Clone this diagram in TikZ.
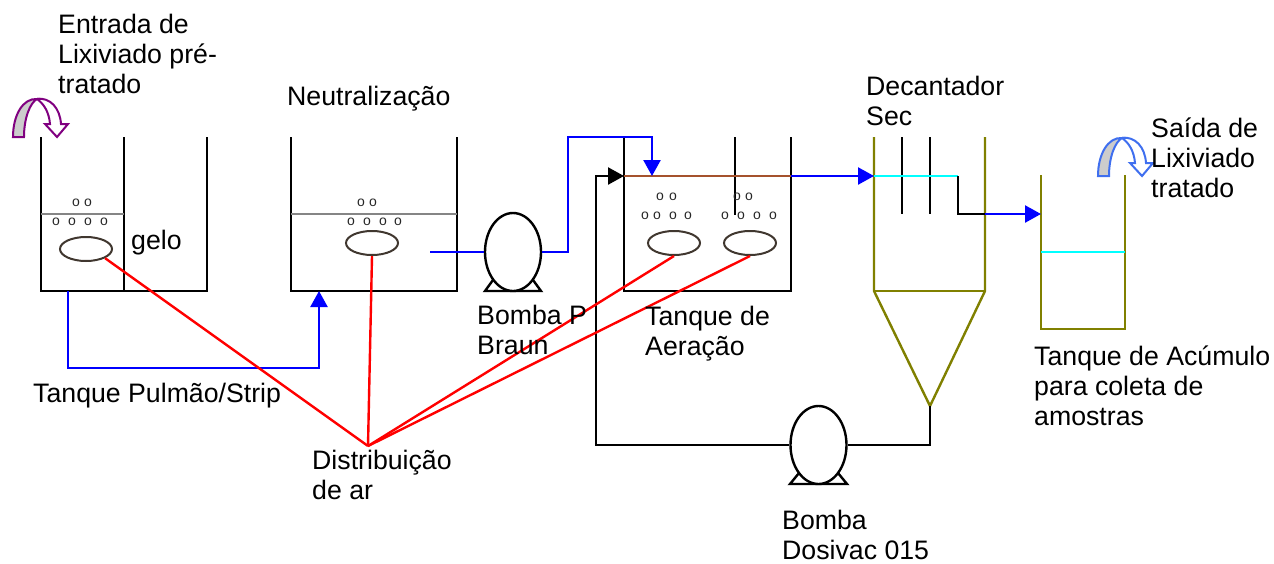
\documentclass[tikz,border=0pt]{standalone}
\usepackage{fontspec}
\setmainfont{Liberation Sans}
\usetikzlibrary{shapes.geometric,arrows.meta}
\definecolor{olivetank}{HTML}{808000}
\definecolor{waterbrown}{HTML}{A5522D}
\definecolor{watergray}{HTML}{858585}
\definecolor{watercyan}{HTML}{00FFFF}
\definecolor{diffuser}{HTML}{40372F}
\definecolor{turnblue}{HTML}{3F6FEF}
\definecolor{turnpurple}{HTML}{800080}
\definecolor{pureblue}{HTML}{0000FF}
\definecolor{purered}{HTML}{FF0000}
\newcommand{\lbl}{\rule{0pt}{20pt}}
\tikzset{
  x=1pt,y=-1pt,
  wall/.style={draw=black,line width=2.4pt,line join=miter},
  olivewall/.style={draw=olivetank,line width=2.4pt},
  level/.style={line width=2.4pt},
  labeltext/.style={anchor=north west,inner sep=0pt,align=left,font=\fontsize{26.7}{30.3}\selectfont},
  bub/.style={inner sep=0pt,font=\fontsize{14}{14}\selectfont,text=black!85},
  diff/.style={ellipse,draw=diffuser,line width=2pt,minimum width=52pt,minimum height=24pt,inner sep=0pt},
  pump/.style={ellipse,draw=black,fill=white,line width=2.4pt,minimum width=56pt,minimum height=78pt,inner sep=0pt},
  bluepipe/.style={draw=pureblue,line width=2.4pt},
  bluearrow/.style={draw=pureblue,line width=2.4pt,-{Triangle[length=16pt,width=17pt,fill=pureblue]}},
  blackarrow/.style={draw=black,line width=2.4pt,-{Triangle[length=16pt,width=17pt,fill=black]}},
  airline/.style={draw=purered,line width=2.4pt},
  turnband/.style={line width=2pt,fill=black!20},
  turnhead/.style={line width=2pt,fill=white},
}
\begin{document}
\begin{tikzpicture}
\useasboundingbox (0,0) rectangle (1274,563);
% tanks
\draw[wall] (41,137) -- (41,291) -- (207,291) -- (207,137);
\draw[wall] (124,137) -- (124,291);
\draw[wall] (291,137) -- (291,291) -- (457,291) -- (457,137);
\draw[wall] (624,137) -- (624,291) -- (791,291) -- (791,137);
\draw[wall] (735,137) -- (735,215);
\draw[olivewall] (874,137) -- (874,291) -- (930,406) -- (985,291) -- (985,137);
\draw[olivewall] (874,291) -- (985,291);
\draw[wall] (902,137) -- (902,214);
\draw[wall] (930,137) -- (930,214);
\draw[olivewall] (1041,175) -- (1041,329) -- (1125,329) -- (1125,175);
% liquid levels
\draw[level,watergray] (41,214) -- (124,214);
\draw[level,watergray] (291,214) -- (457,214);
\draw[level,waterbrown] (624,176) -- (791,176);
\draw[level,watercyan] (874,176) -- (958,176);
\draw[level,watercyan] (1041,252) -- (1125,252);
% bubbles
\foreach \x in {76,88} \node[bub] (ba\x) at (\x,203) {o};
\foreach \x in {56,72,88,104} \node[bub] (bb\x) at (\x,222) {o};
\foreach \x in {361,373} \node[bub] (bc\x) at (\x,203) {o};
\foreach \x in {351,367,383,398} \node[bub] (bd\x) at (\x,222) {o};
\foreach \x in {660,673} \node[bub] (be\x) at (\x,197) {o};
\foreach \x in {645,657,673,688} \node[bub] (bf\x) at (\x,216) {o};
\foreach \x in {737,749} \node[bub] (bg\x) at (\x,197) {o};
\foreach \x in {725,741,757,773} \node[bub] (bh\x) at (\x,216) {o};
% diffusers
\node[diff] (d1) at (86,249) {};
\node[diff] (d2) at (372,243) {};
\node[diff] (d3) at (674,243) {};
\node[diff] (d4) at (750,243) {};
% pumps
\draw[wall] (493,280) -- (485,291) -- (541,291) -- (533,280);
\node[pump] (p1) at (513,252) {};
\draw[wall] (799,473) -- (790,484) -- (847,484) -- (838,473);
\node[pump] (p2) at (818.5,445) {};
% named connector ends
\coordinate (hub) at (368,446);
\coordinate (t1out) at (68,291);
\coordinate (t2in) at (319,291);
\coordinate (t2out) at (430,252);
\coordinate (t3in) at (652,176);
\coordinate (t3ret) at (624,176);
\coordinate (t3out) at (791,176);
\coordinate (decin) at (874,176);
\coordinate (weir) at (958,176);
\coordinate (decwall) at (985,214);
\coordinate (t4in) at (1041,214);
\coordinate (apex) at (930,406);
% blue pipes
\draw[bluearrow] (t1out) -- (68,368) -- (319,368) -- (t2in);
\draw[bluepipe] (t2out) -- (p1.west);
\draw[bluearrow] (p1.east) -- (568,252) -- (568,137) -- (652,137) -- (t3in);
\draw[bluearrow] (t3out) -- (decin);
\draw[wall] (weir) -- (958,214) -- (decwall);
\draw[bluearrow] (decwall) -- (t4in);
% return line
\draw[blackarrow] (p2.west) -- (596,445) -- (596,176) -- (t3ret);
\draw[wall] (p2.east) -- (930,445) -- (apex);
% air lines
\draw[airline] (d1.south east) -- (hub);
\draw[airline] (d2.south) -- (hub);
\draw[airline] (d3.south) -- (hub);
\draw[airline] (d4.south) -- (hub);
% curved arrows
\begin{scope}[draw=turnpurple]
\draw[turnband] (13,137) .. controls (13,115) and (23,98) .. (37,99) .. controls (30,103) and (24,118) .. (24,137) -- cycle;
\draw[turnhead] (37,99) .. controls (50,97) and (60,108) .. (61,124) -- (68,124) -- (57,137) -- (45,124) -- (50,124) .. controls (49,112) and (44,104) .. (37,99) -- cycle;
\end{scope}
\begin{scope}[shift={(1085,39)},draw=turnblue]
\draw[turnband] (13,137) .. controls (13,115) and (23,98) .. (37,99) .. controls (30,103) and (24,118) .. (24,137) -- cycle;
\draw[turnhead] (37,99) .. controls (50,97) and (60,108) .. (61,124) -- (68,124) -- (57,137) -- (45,124) -- (50,124) .. controls (49,112) and (44,104) .. (37,99) -- cycle;
\end{scope}
% labels
\node[labeltext] (l1) at (58,13) {\lbl Entrada de\\Lixiviado pré-\\tratado};
\node[labeltext] (l2) at (287,85) {\lbl Neutralização};
\node[labeltext] (l3) at (131,229) {\lbl gelo};
\node[labeltext] (l4) at (477,304) {\lbl Bomba P\\Braun};
\node[labeltext] (l5) at (645,305) {\lbl Tanque de\\Aeração};
\node[labeltext] (l6) at (866,75) {\lbl Decantador\\Sec};
\node[labeltext] (l7) at (1151,117) {\lbl Saída de\\Lixiviado\\tratado};
\node[labeltext] (l8) at (1034,345) {\lbl Tanque de Acúmulo\\para coleta de\\amostras};
\node[labeltext] (l9) at (33,382) {\lbl Tanque Pulmão/Strip};
\node[labeltext] (l10) at (312,449) {\lbl Distribuição\\de ar};
\node[labeltext] (l11) at (782,509) {\lbl Bomba\\Dosivac 015};
\end{tikzpicture}
\end{document}
